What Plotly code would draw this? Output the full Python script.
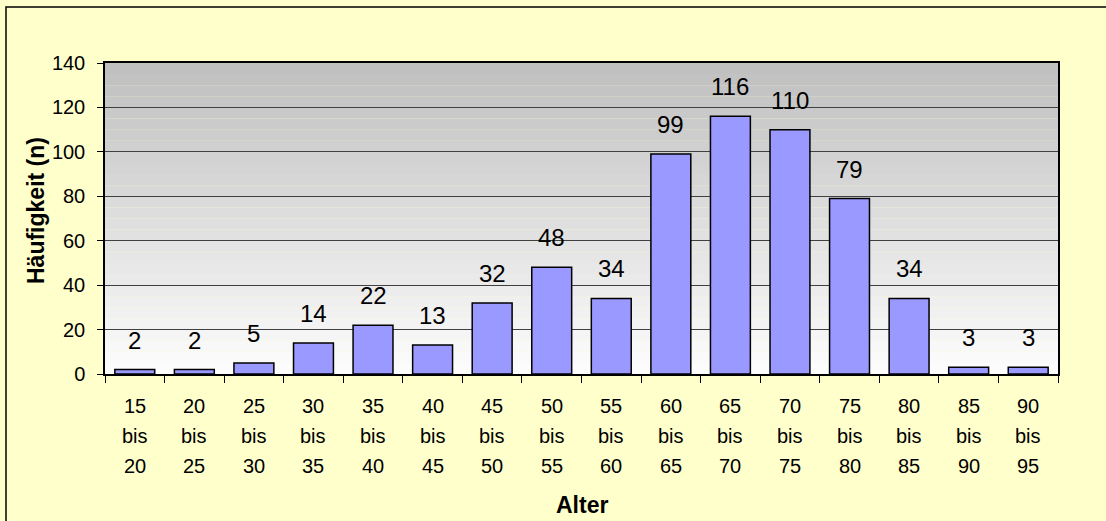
import plotly.graph_objects as go

# Age groups (lower bound, upper bound) and counts per group
lower = [15, 20, 25, 30, 35, 40, 45, 50, 55, 60, 65, 70, 75, 80, 85, 90]
upper = [20, 25, 30, 35, 40, 45, 50, 55, 60, 65, 70, 75, 80, 85, 90, 95]
counts = [2, 2, 5, 14, 22, 13, 32, 48, 34, 99, 116, 110, 79, 34, 3, 3]
y_ticks = [0, 20, 40, 60, 80, 100, 120, 140]

categories = [f"{a}-{b}" for a, b in zip(lower, upper)]

FONT = "Arial, Liberation Sans, sans-serif"
W, H = 1106, 521
ML, MR, MT, MB = 105, 48, 63, 147
PW, PH = W - ML - MR, H - MT - MB

fig = go.Figure()
fig.add_trace(go.Bar(
    x=categories, y=counts,
    marker=dict(color="#9999FF", line=dict(color="black", width=1.5)),
    showlegend=False, hoverinfo="x+y",
))

shapes = []
# vertical grey gradient behind the bars (dark at top, near white at bottom)
n_bands = 28
top_c, bot_c = 192, 252
for i in range(n_bands):
    f = i / (n_bands - 1)
    v = round(bot_c + (top_c - bot_c) * f)
    shapes.append(dict(
        type="rect", xref="x domain", yref="y domain",
        x0=0, x1=1, y0=i / n_bands, y1=(i + 1) / n_bands,
        fillcolor=f"rgb({v},{v},{v})", line=dict(width=0), layer="below",
    ))
# outer chart frame
shapes.append(dict(
    type="rect", xref="paper", yref="paper",
    x0=(6 - ML) / PW, x1=(W + 10 - ML) / PW,
    y0=-(H + 10 - MT - PH) / PH, y1=1 + (MT - 7) / PH,
    line=dict(color="black", width=1.5), fillcolor="rgba(0,0,0,0)", layer="above",
))

annotations = []
# value labels above the bars
for c, v in zip(categories, counts):
    annotations.append(dict(
        x=c, y=v, xref="x", yref="y", text=str(v), showarrow=False,
        yanchor="bottom", yshift=14, font=dict(family=FONT, size=24, color="black"),
    ))
# three-line category labels under the axis
rows = [(lower, 32), ("bis", 62), (upper, 92)]
for idx, c in enumerate(categories):
    for src, dy in rows:
        txt = "bis" if src == "bis" else str(src[idx])
        annotations.append(dict(
            x=c, y=0, xref="x", yref="paper", text=txt, showarrow=False,
            yanchor="middle", yshift=-dy, font=dict(family=FONT, size=20, color="black"),
        ))
# axis titles
annotations.append(dict(
    x=0.5, y=0, xref="paper", yref="paper", text="<b>Alter</b>", showarrow=False,
    yanchor="middle", yshift=-(505 - (MT + PH)), font=dict(family=FONT, size=23, color="black"),
))
annotations.append(dict(
    x=0, y=0.5, xref="paper", yref="paper", text="<b>Häufigkeit (n)</b>", showarrow=False,
    xanchor="center", yanchor="middle", xshift=-(ML - 36), yshift=(MT + PH / 2) - 211,
    textangle=-90, font=dict(family=FONT, size=23, color="black"),
))

fig.update_layout(
    width=W, height=H,
    margin=dict(l=ML, r=MR, t=MT, b=MB, pad=0),
    paper_bgcolor="#FFFFCC", plot_bgcolor="rgba(0,0,0,0)",
    bargap=0.33,
    shapes=shapes, annotations=annotations,
    font=dict(family=FONT, size=20, color="black"),
    xaxis=dict(
        type="category", showticklabels=False, tickson="boundaries",
        ticks="outside", ticklen=7, tickcolor="black", tickwidth=1,
        showline=True, linecolor="black", linewidth=1.5, mirror=True,
        showgrid=False, range=[-0.5, len(categories) - 0.5],
    ),
    yaxis=dict(
        range=[0, 140], tickvals=y_ticks, ticks="outside", ticklen=6,
        tickcolor="black", tickwidth=1, ticklabelstandoff=8,
        showline=True, linecolor="black", linewidth=1.5, mirror=True,
        showgrid=True, gridcolor="#404040", gridwidth=1, zeroline=False,
        tickfont=dict(family=FONT, size=20, color="black"),
    ),
)

fig.write_html("out.html")
